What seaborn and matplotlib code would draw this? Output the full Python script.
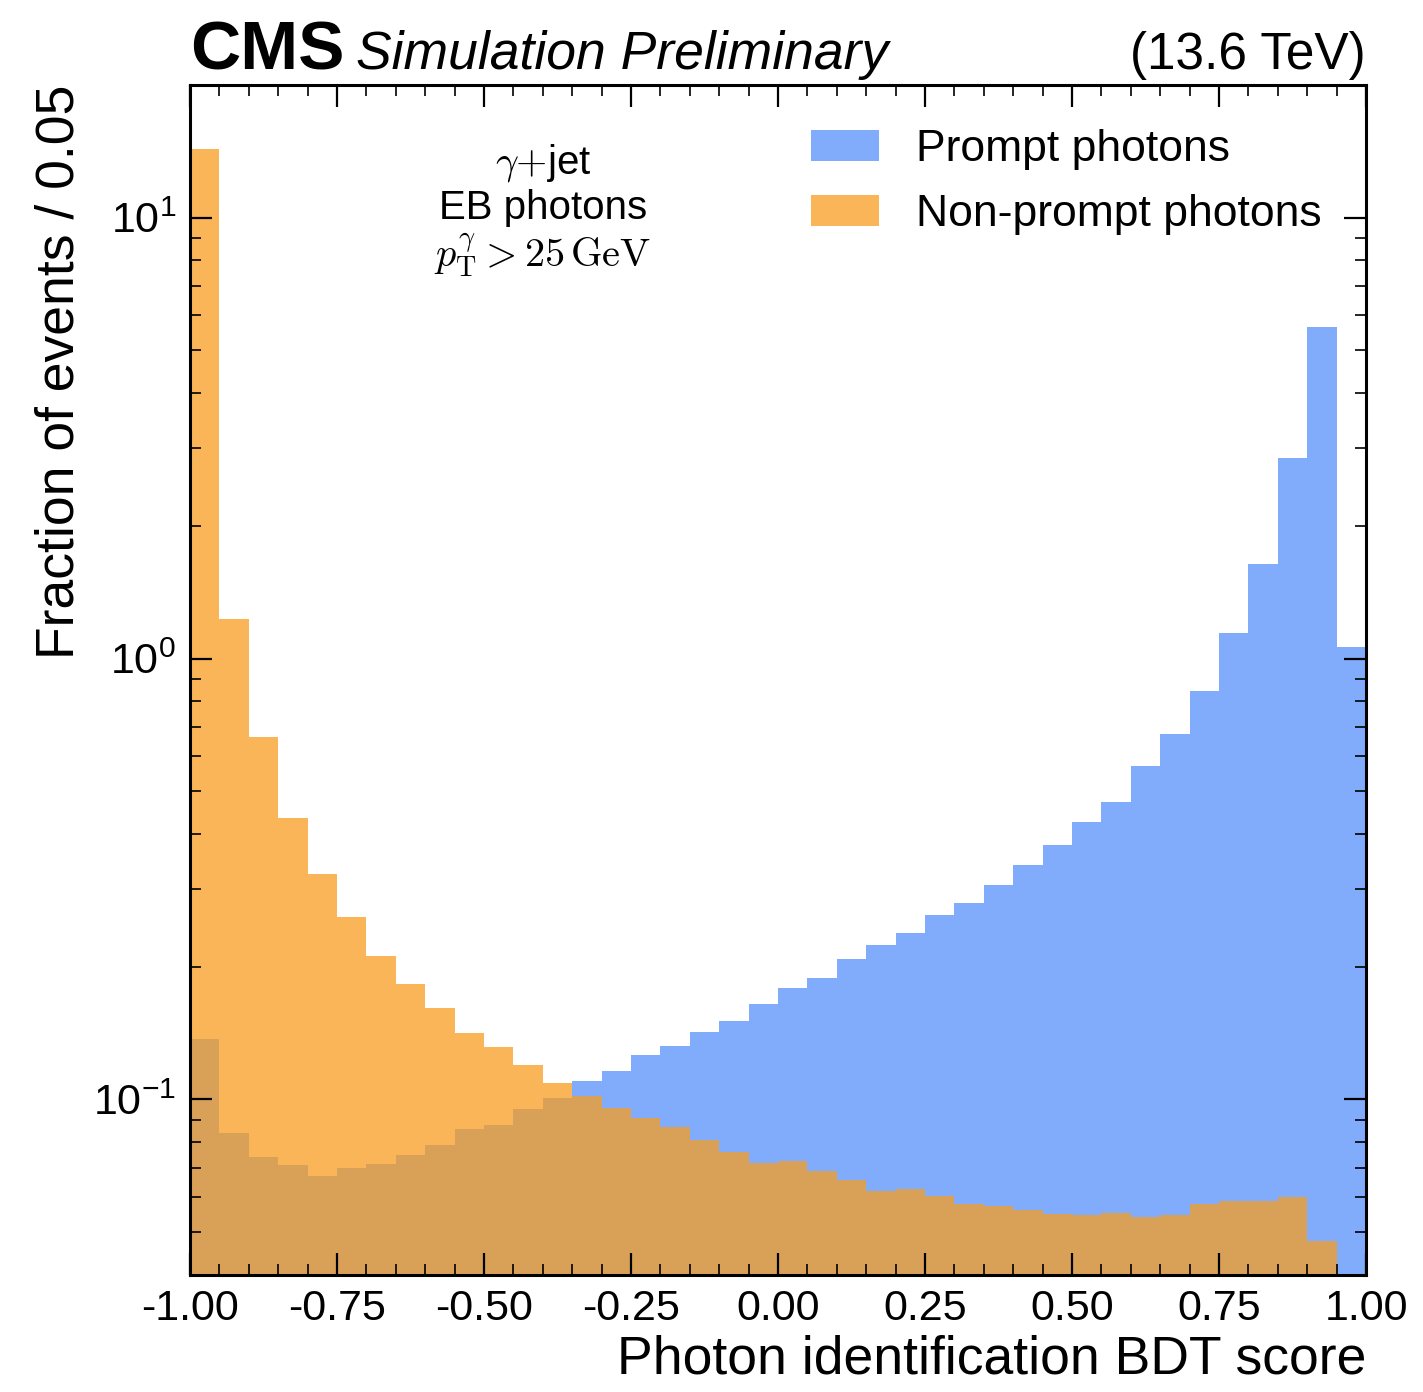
import numpy as np
import pandas as pd
import matplotlib
matplotlib.use("Agg")
import matplotlib.pyplot as plt
import seaborn as sns
from matplotlib.patches import Patch
from matplotlib.ticker import MultipleLocator, LogLocator, NullFormatter

# Photon ID BDT score histogram, 40 bins of width 0.05 on [-1, 1]
bin_edges = [round(-1.0 + 0.05 * i, 2) for i in range(41)]
bin_centers = [round(0.5 * (a + b), 3) for a, b in zip(bin_edges[:-1], bin_edges[1:])]

prompt_frac = [
    0.137, 0.084, 0.074, 0.071, 0.067, 0.070, 0.0715, 0.075, 0.079, 0.0855,
    0.0875, 0.095, 0.101, 0.110, 0.116, 0.126, 0.132, 0.1425, 0.151, 0.165,
    0.179, 0.189, 0.208, 0.2235, 0.238, 0.262, 0.279, 0.3065, 0.340, 0.377,
    0.427, 0.474, 0.570, 0.676, 0.845, 1.14, 1.635, 2.85, 5.65, 1.06,
]
nonprompt_frac = [
    14.3, 1.229, 0.663, 0.434, 0.325, 0.260, 0.211, 0.183, 0.161, 0.1416,
    0.1315, 0.120, 0.109, 0.102, 0.0958, 0.0908, 0.0864, 0.081, 0.0761, 0.0718,
    0.0725, 0.069, 0.0656, 0.0619, 0.0626, 0.0603, 0.0579, 0.0573, 0.0561, 0.0549,
    0.0548, 0.0553, 0.0541, 0.0546, 0.0578, 0.0588, 0.0587, 0.0600, 0.0477, 0.0,
]
series_labels = ["Prompt photons", "Non-prompt photons"]
series_colors = ["#5790fc", "#f89c20"]

x_ticks = [-1.0, -0.75, -0.5, -0.25, 0.0, 0.25, 0.5, 0.75, 1.0]

sns.set_style("ticks")
plt.rcParams["font.family"] = ["Liberation Sans", "DejaVu Sans"]
plt.rcParams["mathtext.fontset"] = "cm"
plt.rcParams["axes.unicode_minus"] = False
plt.rcParams["text.color"] = "black"
plt.rcParams["axes.labelcolor"] = "black"
plt.rcParams["xtick.color"] = "black"
plt.rcParams["ytick.color"] = "black"

fig = plt.figure(figsize=(14.23, 13.92), dpi=100)
ax = fig.add_axes([0.1335, 0.0841, 0.8265, 0.8549])
ax.set_axisbelow(False)

df_p = pd.DataFrame({"score": bin_centers, "frac": prompt_frac})
df_np = pd.DataFrame({"score": bin_centers, "frac": nonprompt_frac})

alpha = 0.75
sns.histplot(data=df_p, x="score", weights="frac", bins=bin_edges,
             color=series_colors[0], alpha=alpha, linewidth=0, ax=ax)
sns.histplot(data=df_np, x="score", weights="frac", bins=bin_edges,
             color=series_colors[1], alpha=alpha, linewidth=0, ax=ax)

ax.set_yscale("log")
ax.set_xlim(-1.0, 1.0)
ax.set_ylim(0.04, 20)

# Axes frame and ticks
for s in ax.spines.values():
    s.set_linewidth(2.2)
    s.set_color("black")
    s.set_zorder(5)
ax.set_xticks(x_ticks)
ax.set_xticklabels([f"{t:.2f}" for t in x_ticks])
ax.xaxis.set_minor_locator(MultipleLocator(0.05))
ax.yaxis.set_major_locator(LogLocator(base=10))
ax.yaxis.set_minor_locator(LogLocator(base=10, subs=np.arange(2, 10)))
ax.yaxis.set_minor_formatter(NullFormatter())
ax.tick_params(which="both", direction="in", top=True, right=True,
               labelsize=31, colors="black")
ax.tick_params(which="major", length=16, width=1.6, pad=10)
ax.tick_params(which="minor", length=8, width=1.2)

ax.set_xlabel("Photon identification BDT score", fontsize=38.5,
              loc="right", labelpad=4)
ax.set_ylabel("Fraction of events / 0.05", fontsize=38.5,
              loc="top", labelpad=6)

# Experiment label
ax.text(0.0, 1.013, "CMS", transform=ax.transAxes, fontsize=50,
        fontweight="bold", ha="left", va="baseline")
ax.text(0.141, 1.013, "Simulation Preliminary", transform=ax.transAxes,
        fontsize=38.5, fontstyle="italic", ha="left", va="baseline")
ax.text(1.0, 1.013, "(13.6 TeV)", transform=ax.transAxes, fontsize=37,
        ha="right", va="baseline")

# Selection description
ax.text(0.300, 0.9345, r"$\gamma{+}$jet", transform=ax.transAxes,
        fontsize=29, ha="center", va="center")
ax.text(0.300, 0.8965, "EB photons", transform=ax.transAxes,
        fontsize=29, ha="center", va="center")
ax.text(0.300, 0.857, r"$p_{\mathrm{T}}^{\gamma} > 25\,\mathrm{GeV}$",
        transform=ax.transAxes, fontsize=29, ha="center", va="center")

handles = [Patch(facecolor=c, alpha=alpha, linewidth=0) for c in series_colors]
ax.legend(handles, series_labels, loc="upper left",
          bbox_to_anchor=(0.528, 0.963), frameon=False, fontsize=32,
          handlelength=1.53, handleheight=0.72, handletextpad=0.83,
          labelspacing=0.54, borderpad=0, borderaxespad=0)

fig.savefig("out.png", dpi=100)
